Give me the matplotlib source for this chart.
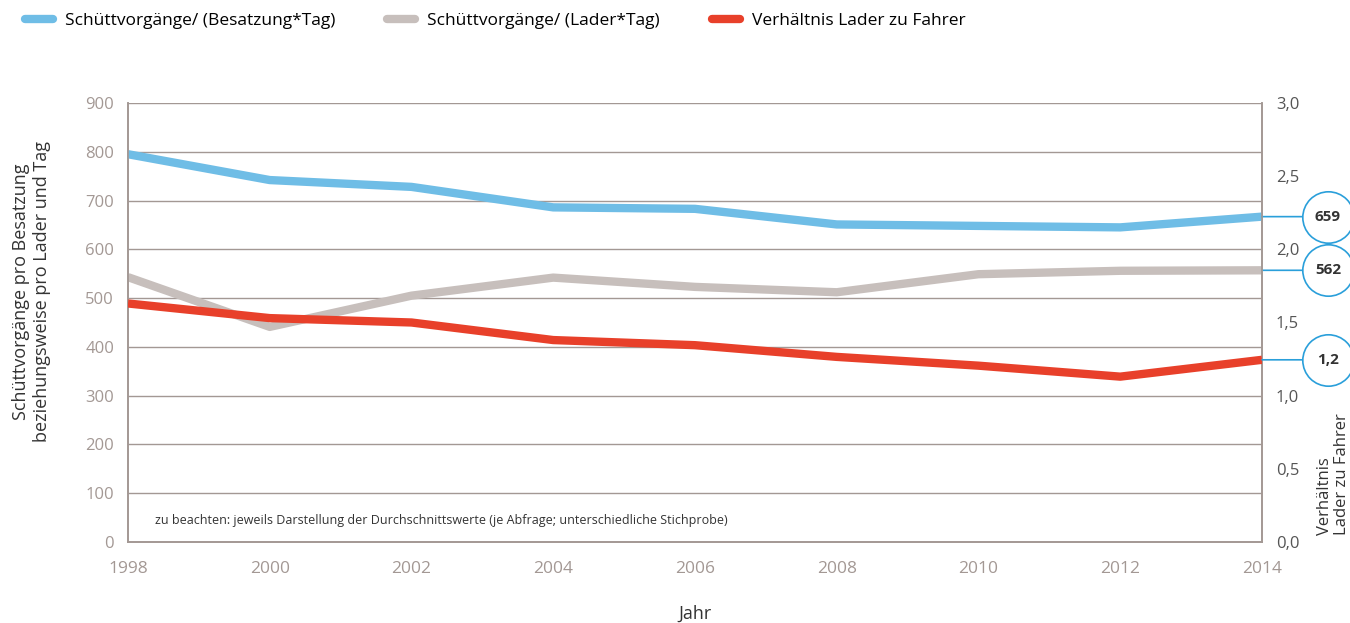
import matplotlib
matplotlib.use("Agg")
import matplotlib.pyplot as plt
from matplotlib.lines import Line2D
from matplotlib.transforms import offset_copy

plt.rcParams['font.family'] = ['Open Sans', 'DejaVu Sans']

years = [1998, 2000, 2002, 2004, 2006, 2008, 2010, 2012, 2014]
besatzung = [795, 742, 728, 686, 683, 651, 648, 645, 667]
lader = [543, 441, 505, 542, 523, 512, 549, 556, 557]
verhaeltnis = [1.63, 1.53, 1.50, 1.38, 1.345, 1.265, 1.205, 1.13, 1.245]
left_ticks = [0, 100, 200, 300, 400, 500, 600, 700, 800, 900]
right_ticks = [0.0, 0.5, 1.0, 1.5, 2.0, 2.5, 3.0]
right_labels = ["0,0", "0,5", "1,0", "1,5", "2,0", "2,5", "3,0"]
end_labels = ["659", "562", "1,2"]
legend_labels = ["Schüttvorgänge/ (Besatzung*Tag)", "Schüttvorgänge/ (Lader*Tag)", "Verhältnis Lader zu Fahrer"]

c_blue = "#6FBDE6"
c_gray = "#C7BFBC"
c_red = "#E8402A"
c_axis = "#A39894"
c_circle = "#2A9FDA"

fig = plt.figure(figsize=(13.5, 6.23), dpi=100)
ax = fig.add_axes([0.0948, 0.130, 0.840, 0.7047])
ax2 = ax.twinx()

ax.set_xlim(1998, 2014)
ax.set_ylim(0, 900)
ax2.set_ylim(0, 3.0)

ax.set_yticks(left_ticks)
ax.grid(axis='y', color=c_axis, linewidth=1.0)
ax.set_axisbelow(True)
ax.tick_params(axis='y', length=0, pad=10, labelsize=12, labelcolor=c_axis)
ax.set_xticks(years)
ax.tick_params(axis='x', length=0, pad=14, labelsize=12.5, labelcolor=c_axis)

ax2.set_yticks(right_ticks)
ax2.set_yticklabels(right_labels)
ax2.tick_params(axis='y', length=0, pad=10, labelsize=12, labelcolor="#555555")

for a in (ax, ax2):
    a.spines['top'].set_visible(False)
    for s in ('left', 'right', 'bottom'):
        a.spines[s].set_color(c_axis)
        a.spines[s].set_linewidth(1.2)

ax.plot(years, besatzung, color=c_blue, linewidth=6, solid_capstyle='butt', zorder=3)
ax.plot(years, lader, color=c_gray, linewidth=6, solid_capstyle='butt', zorder=2)
ax2.plot(years, verhaeltnis, color=c_red, linewidth=6, solid_capstyle='butt', zorder=3)

ax.set_ylabel("Schüttvorgänge pro Besatzung\nbeziehungsweise pro Lader und Tag", fontsize=13, color="#333333")
ax.yaxis.set_label_coords(-0.068, 0.57)
ax.set_xlabel("Jahr", fontsize=13, color="#333333", labelpad=20)

ax2.text(1.063, 0.015, "Verhältnis\nLader zu Fahrer", transform=ax2.transAxes, rotation=90,
         ha='center', va='bottom', multialignment='left', fontsize=12, color="#333333", linespacing=1.05)

ax.text(0.024, 0.05, "zu beachten: jeweils Darstellung der Durchschnittswerte (je Abfrage; unterschiedliche Stichprobe)",
        transform=ax.transAxes, fontsize=9, color="#333333", va='center')

# end-value circles
ends = [(ax, besatzung[-1]), (ax, lader[-1]), (ax2, verhaeltnis[-1])]
for (a, v), lab in zip(ends, end_labels):
    a.annotate("", xy=(years[-1], v), xytext=(30, 0), textcoords='offset points',
               arrowprops=dict(arrowstyle='-', color=c_circle, lw=1.2, shrinkA=0, shrinkB=0),
               annotation_clip=False)
    tr = offset_copy(a.transData, fig=fig, x=47.5, y=0, units='points')
    a.plot([years[-1]], [v], marker='o', markersize=37, markerfacecolor='white',
           markeredgecolor=c_circle, markeredgewidth=1.2, transform=tr, clip_on=False, zorder=5)
    a.annotate(lab, xy=(years[-1], v), xytext=(47.5, 0), textcoords='offset points',
               ha='center', va='center', fontsize=11, fontweight='bold', color="#333333",
               annotation_clip=False, zorder=6)

handles = [Line2D([0], [0], color=c, lw=6, solid_capstyle='round') for c in (c_blue, c_gray, c_red)]
fig.legend(handles, legend_labels, loc='upper left', bbox_to_anchor=(0.007, 1.005), ncol=3,
           frameon=False, fontsize=12.5, handlelength=1.6, columnspacing=3.0, handletextpad=0.7)

fig.savefig("out.png", dpi=100)
